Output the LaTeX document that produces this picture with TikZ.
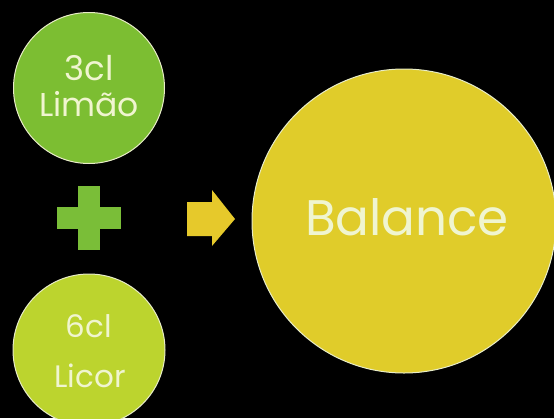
\documentclass[tikz,border=0pt]{standalone}
\usepackage{fontspec}
\setmainfont{Poppins}
\definecolor{limegreen}{RGB}{124,190,50}
\definecolor{licorgreen}{RGB}{188,212,46}
\definecolor{balyellow}{RGB}{224,204,42}
\definecolor{arrowyellow}{RGB}{230,201,43}
\definecolor{plusgreen}{RGB}{122,190,56}
\definecolor{txtwhite}{RGB}{240,245,208}
\definecolor{rimwhite}{RGB}{232,236,200}
\begin{document}
\begin{tikzpicture}[x=1pt,y=-1pt,
  ball/.style={circle, inner sep=0pt, draw=rimwhite, line width=1pt},
  lbl/.style={anchor=base, text=txtwhite, inner sep=0pt}]
\useasboundingbox (0,0) rectangle (554,418);
\fill[black] (0,0) rectangle (554,418);
\clip (0,0) rectangle (554,418);
% circles
\node[ball, fill=limegreen, minimum size=151pt] (lime) at (89,88) {};
\node[ball, fill=licorgreen, minimum size=152pt] (licor) at (89,350) {};
\node[ball, fill=balyellow, minimum size=304pt] (bal) at (404,221) {};
% texts
\node[lbl, font=\fontsize{34}{34}\selectfont] (t3cl) at (89,80) {3cl};
\node[lbl, font=\fontsize{33}{33}\selectfont] (tlim) at (89,116) {Limão};
\node[lbl, font=\fontsize{31}{31}\selectfont] (t6cl) at (89,337) {6cl};
\node[lbl, font=\fontsize{31}{31}\selectfont] (tlic) at (90,387) {Licor};
\node[lbl, font=\fontsize{50}{50}\selectfont] (tbal) at (407,235) {Balance};
% plus sign
\fill[plusgreen] (78,186) rectangle (100,250);
\fill[plusgreen] (57,207) rectangle (121,229);
% block arrow
\fill[arrowyellow] (187,202) -- (212,202) -- (212,190) -- (235,219)
  -- (212,246) -- (212,236) -- (187,236) -- cycle;
\end{tikzpicture}
\end{document}
